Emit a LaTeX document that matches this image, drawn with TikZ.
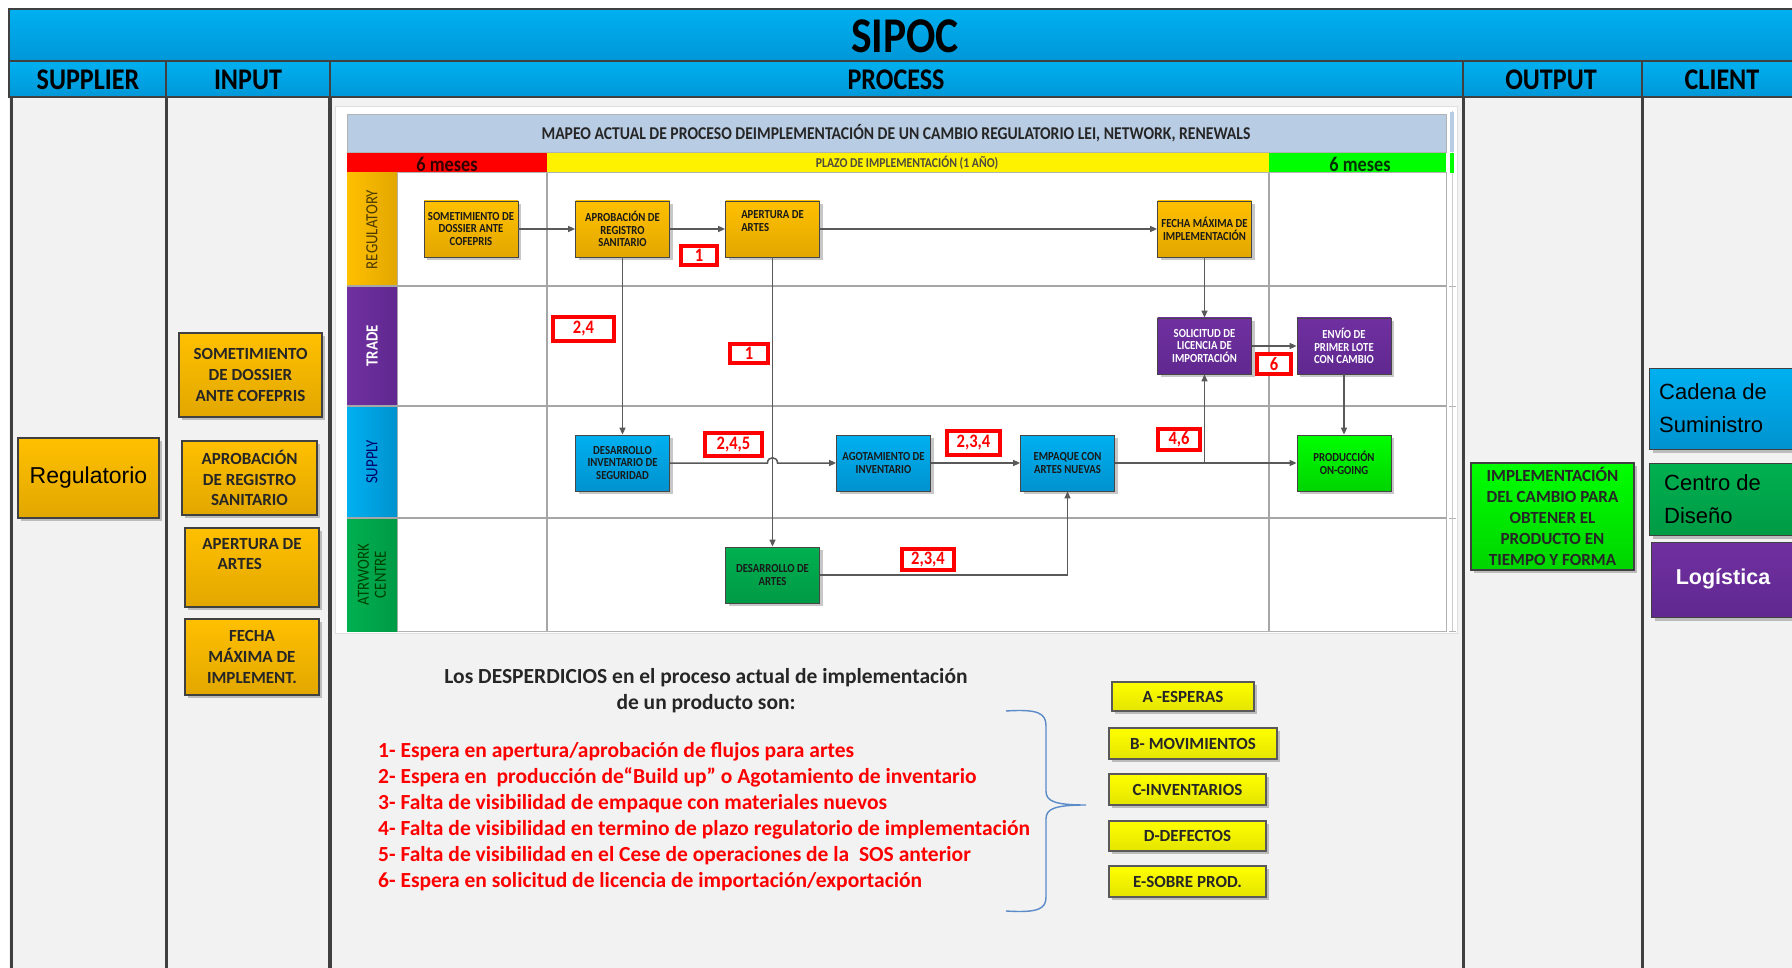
\documentclass[tikz,border=0pt]{standalone}
\usepackage{fontspec}
\setmainfont{Carlito}
\newfontfamily\condf[FakeStretch=0.87]{Carlito}
\newfontfamily\arialf{Liberation Sans}
\usetikzlibrary{arrows.meta,shadows}
\newcommand{\fsz}[2]{\fontsize{#1}{#2}\selectfont}

\definecolor{hdrblue}{HTML}{00B0F0}
\definecolor{hdrblued}{HTML}{0097D8}
\definecolor{bodygray}{HTML}{F2F2F2}
\definecolor{linegray}{HTML}{404040}
\definecolor{gold}{HTML}{FFC000}
\definecolor{goldd}{HTML}{E2A700}
\definecolor{purp}{HTML}{7030A0}
\definecolor{purpd}{HTML}{602890}
\definecolor{skyb}{HTML}{00B0F0}
\definecolor{skybd}{HTML}{0092CF}
\definecolor{grn}{HTML}{00B050}
\definecolor{grnd}{HTML}{009A45}
\definecolor{lime}{HTML}{00FF00}
\definecolor{limed}{HTML}{00D400}
\definecolor{titleblue}{HTML}{B8CCE4}
\definecolor{conn}{HTML}{595959}
\definecolor{bracec}{HTML}{5B8BC9}
\definecolor{yel}{HTML}{FFFF00}
\definecolor{yeld}{HTML}{E4E400}
\definecolor{txtdark}{HTML}{262626}
\definecolor{lanegray}{HTML}{A6A6A6}

\begin{document}
\begin{tikzpicture}[x=1pt,y=-1pt,
  shad/.style={drop shadow={shadow xshift=3pt,shadow yshift=-3pt,opacity=0.22,fill=black}},
  hdrtxt/.style={font=\condf\bfseries\fsz{30}{30},text=black,inner sep=0pt},
  colline/.style={draw=linegray,line width=3pt},
  goldfill/.style={top color=gold,bottom color=goldd},
  inbox/.style={goldfill,draw=linegray,line width=1.2pt,shad,align=center,inner sep=0pt,
    font=\bfseries\fsz{17}{20.8},text=txtdark},
  lanelbl/.style={rotate=90,inner sep=0pt,align=center,font=\condf\fsz{17}{17}},
  pnode/.style={draw=gray!55!black,line width=0.8pt,minimum width=94pt,minimum height=56pt,
    inner sep=0pt,align=center,font=\condf\bfseries\fsz{12.3}{12.7},text=black!90,shad},
  pgold/.style={pnode,top color=gold,bottom color=goldd},
  ppurp/.style={pnode,top color=purp,bottom color=purpd,text=white},
  pblue/.style={pnode,top color=skyb,bottom color=skybd},
  pgreen/.style={pnode,top color=grn,bottom color=grnd},
  plime/.style={pnode,top color=lime,bottom color=limed},
  tag/.style={draw=red,line width=3.2pt,fill=white,text=red,inner sep=0pt,
    font=\condf\bfseries\fsz{19}{19}},
  flow/.style={draw=conn,line width=1.5pt,-{Triangle[length=7pt,width=6pt]}},
  ybox/.style={top color=yel,bottom color=yeld,draw=gray!70!black,line width=1.2pt,shad,
    inner sep=0pt,font=\bfseries\fsz{17}{17},text=txtdark}]
\useasboundingbox (0,0) rectangle (1792,968);
\clip (0,0) rectangle (1792,968);
\fill[white] (0,0) rectangle (1792,968);

% ---------- table body ----------
\fill[bodygray] (9,97) rectangle (1800,968);

% ---------- header bars ----------
\path[top color=hdrblue,bottom color=hdrblued,draw=linegray,line width=1.5pt] (9,9) rectangle (1800,61);
\path[top color=hdrblue,bottom color=hdrblued,draw=linegray,line width=1.5pt] (9,61) rectangle (1800,97);
\foreach \cx in {166,330,1463,1642} \draw[linegray,line width=1.2pt] (\cx,61) -- (\cx,97);
\node[hdrtxt,font=\condf\bfseries\fsz{50}{50}] (ttl) at (905,36) {SIPOC};
\node[hdrtxt] (hsup) at (88,80) {SUPPLIER};
\node[hdrtxt] (hinp) at (248,80) {INPUT};
\node[hdrtxt] (hpro) at (896,80) {PROCESS};
\node[hdrtxt] (hout) at (1551,80) {OUTPUT};
\node[hdrtxt] (hcli) at (1722,80) {CLIENT};

% column rules
\draw[colline] (11,97) -- (11,968);
\draw[colline] (166,97) -- (166,968);
\draw[colline,line width=3.6pt] (330,97) -- (330,968);
\draw[colline] (1463,97) -- (1463,968);
\draw[colline] (1642,97) -- (1642,968);

% ---------- supplier ----------
\node[inbox,minimum width=141pt,minimum height=80pt,font=\arialf\fsz{23}{23},text=black] (sup) at (88.5,478) {Regulatorio};

% ---------- inputs ----------
\node[inbox,minimum width=143pt,minimum height=84pt] (in1) at (250.5,375) {SOMETIMIENTO\\DE DOSSIER\\ANTE COFEPRIS};
\node[inbox,minimum width=135pt,minimum height=74pt] (in2) at (249.5,478) {APROBACIÓN\\DE REGISTRO\\SANITARIO};
\node[inbox,minimum width=134pt,minimum height=79pt,align=left] (in3) at (252,567.5) {APERTURA DE\\\hspace*{0.9em}ARTES\\\strut};
\node[inbox,minimum width=134pt,minimum height=76pt] (in4) at (252,657) {FECHA\\MÁXIMA DE\\IMPLEMENT.};

% ---------- output ----------
\node[inbox,top color=lime,bottom color=limed,minimum width=163pt,minimum height=107pt] (out) at (1552.5,516.5)
  {IMPLEMENTACIÓN\\DEL CAMBIO PARA\\OBTENER EL\\PRODUCTO EN\\TIEMPO Y FORMA};

% ---------- clients ----------
\node[shad,top color=skyb,bottom color=skybd,draw=linegray,line width=1.2pt,minimum width=170pt,minimum height=81pt,anchor=north west,inner sep=0pt] (cl1) at (1649,368) {};
\node[anchor=west,align=left,inner sep=0pt,font=\arialf\fsz{22}{33},text=black] (cl1t) at (1659,408) {Cadena de\\Suministro};
\node[shad,top color=grn,bottom color=grnd,draw=linegray,line width=1.2pt,minimum width=170pt,minimum height=72pt,anchor=north west,inner sep=0pt] (cl2) at (1649,463) {};
\node[anchor=west,align=left,inner sep=0pt,font=\arialf\fsz{22}{33},text=black] (cl2t) at (1664,499) {Centro de\\Diseño};
\node[shad,top color=purp,bottom color=purpd,draw=linegray,line width=1.2pt,minimum width=170pt,minimum height=75pt,anchor=north west,inner sep=0pt] (cl3) at (1651,542) {};
\node[inner sep=0pt,font=\arialf\bfseries\fsz{21.5}{21.5},text=white] (cl3t) at (1723,579) {Logística};

% ---------- process map ----------
\fill[white,draw=gray!25] (335,106) rectangle (1457,633);
% title and time bar
\path[fill=titleblue,draw=gray!60] (347,114) rectangle (1446,152);
\node[inner sep=0pt,font=\condf\bfseries\fsz{18}{18},text=txtdark] (maptitle) at (896,133)
  {MAPEO ACTUAL DE PROCESO DEIMPLEMENTACIÓN DE UN CAMBIO REGULATORIO LEI, NETWORK, RENEWALS};
\fill[red] (347,153) rectangle (547,173);
\fill[yellow] (547,153) rectangle (1269,173);
\fill[lime] (1269,153) rectangle (1446,173);
\node[inner sep=0pt,font=\condf\bfseries\fsz{21}{21},text=black!80!red] (tm1) at (447,164) {6 meses};
\node[inner sep=0pt,font=\condf\bfseries\fsz{13.5}{13.5},text=black!80!yellow] (tm2) at (907,163) {PLAZO DE IMPLEMENTACIÓN (1 AÑO)};
\node[inner sep=0pt,font=\condf\bfseries\fsz{21}{21},text=black!80!green] (tm3) at (1360,164) {6 meses};

% side frame strip
\draw[gray!40,line width=0.8pt] (1452,111) -- (1452,631);
\fill[titleblue] (1450,112) rectangle (1454,152);
\fill[lime] (1450,153) rectangle (1454,173);
\foreach \ty in {286,406,518,631} \draw[gray!60,line width=0.8pt] (1449,\ty) -- (1456,\ty);

% swimlanes
\draw[gray!60,line width=1pt] (397,173) rectangle (1446,631);
\path[left color=gold,right color=goldd] (347,173) rectangle (397,286);
\path[left color=purp,right color=purpd] (347,286) rectangle (397,406);
\path[left color=skyb,right color=skybd] (347,406) rectangle (397,518);
\path[left color=grn,right color=grnd] (347,518) rectangle (397,631);
\foreach \ly in {286,406,518} \draw[lanegray,line width=1.5pt] (347,\ly) -- (1446,\ly);
\draw[lanegray,line width=1.5pt] (547,173) -- (547,631);
\draw[lanegray,line width=1.5pt] (1269,173) -- (1269,631);
\node[lanelbl,text=black!70!gold] (lreg) at (372,229.5) {REGULATORY};
\node[lanelbl,text=white,font=\condf\bfseries\fsz{17}{17}] (ltra) at (372,346) {TRADE};
\node[lanelbl,text=blue!40!black] (lsup) at (372,462) {SUPPLY};
\node[lanelbl,text=green!25!black] (lart) at (372,574.5) {ATRWORK\\CENTRE};

% process steps
\node[pgold] (p1) at (471,229) {SOMETIMIENTO DE\\DOSSIER ANTE\\COFEPRIS};
\node[pgold] (p2) at (622.5,229) {APROBACIÓN DE\\REGISTRO\\SANITARIO};
\node[pgold,align=left] (p3) at (772.5,229) {APERTURA DE\\ARTES\\\strut};
\node[pgold] (p4) at (1204.5,229) {FECHA MÁXIMA DE\\IMPLEMENTACIÓN};
\node[ppurp] (p5) at (1204.5,346) {SOLICITUD DE\\LICENCIA DE\\IMPORTACIÓN};
\node[ppurp] (p6) at (1344,346) {ENVÍO DE\\PRIMER LOTE\\CON CAMBIO};
\node[pblue] (p7) at (622.5,463) {DESARROLLO\\INVENTARIO DE\\SEGURIDAD};
\node[pblue] (p8) at (883.5,463) {AGOTAMIENTO DE\\INVENTARIO};
\node[pblue] (p9) at (1067.5,463) {EMPAQUE CON\\ARTES NUEVAS};
\node[plime] (p10) at (1344,463) {PRODUCCIÓN\\ON-GOING};
\node[pgreen] (p11) at (772.5,575) {DESARROLLO DE\\ARTES};

% flows
\coordinate (hopL) at (767.5,463);
\coordinate (hopR) at (777.5,463);
\draw[flow] (p1) -- (p2);
\draw[flow] (p2) -- (p3);
\draw[flow] (p3) -- (p4);
\draw[flow] (p2) -- (p7);
\draw[flow] (p3) -- (p11);
\draw[flow] (p4) -- (p5);
\draw[flow] (p5) -- (p6);
\draw[flow] (p6) -- (p10);
\draw[flow] (p7.east) -- (hopL) .. controls +(0,-7) and +(0,-7) .. (hopR) -- (p8.west);
\draw[flow] (p8) -- (p9);
\draw[flow] (p9) -- (p10);
\draw[flow] (p9.east) -| (p5.south);
\draw[flow] (p11.east) -| (p9.south);

% waste markers
\node[tag,minimum width=36pt,minimum height=19pt] (t1) at (699,255.5) {1};
\node[tag,minimum width=61pt,minimum height=24pt] (t2) at (583.5,329) {2,4};
\node[tag,minimum width=38pt,minimum height=19pt] (t3) at (749,353.5) {1};
\node[tag,minimum width=34pt,minimum height=20pt] (t4) at (1274,364) {6};
\node[tag,minimum width=57pt,minimum height=23pt] (t5) at (733.5,444.5) {2,4,5};
\node[tag,minimum width=53pt,minimum height=24pt] (t6) at (973.5,443) {2,3,4};
\node[tag,minimum width=42pt,minimum height=21pt] (t7) at (1179,439.5) {4,6};
\node[tag,minimum width=52pt,minimum height=21pt] (t8) at (928,559.5) {2,3,4};

% ---------- waste summary ----------
\node[align=center,inner sep=0pt,font=\bfseries\fsz{21.5}{26},text=txtdark] (wtitle) at (706,691)
  {Los DESPERDICIOS en el proceso actual de implementación\\de un producto son:};
\node[anchor=north west,align=left,inner sep=0pt,font=\bfseries\fsz{21.5}{26},text=red] (wlist) at (378,742)
  {1- Espera en apertura/aprobación de flujos para artes\\
   2- Espera en~ producción de“Build up” o Agotamiento de inventario\\
   3- Falta de visibilidad de empaque con materiales nuevos\\
   4- Falta de visibilidad en termino de plazo regulatorio de implementación\\
   5- Falta de visibilidad en el Cese de operaciones de la~ SOS anterior\\
   6- Espera en solicitud de licencia de importación/exportación};

\coordinate (brTop) at (1006,711);
\coordinate (brTip) at (1086,805);
\coordinate (brBot) at (1006,911);
\draw[bracec,line width=1.4pt] (brTop) .. controls (1038,709) and (1046,713) .. (1046,726)
  -- (1046,791) .. controls (1046,801) and (1054,805) .. (brTip)
  .. controls (1054,805) and (1046,809) .. (1046,819)
  -- (1046,897) .. controls (1046,909) and (1038,913) .. (brBot);

\node[ybox,minimum width=142pt,minimum height=29pt] (wa) at (1183,696.5) {A -ESPERAS};
\node[ybox,minimum width=168pt,minimum height=31pt] (wb) at (1193,743.5) {B- MOVIMIENTOS};
\node[ybox,minimum width=157pt,minimum height=31pt] (wc) at (1187.5,789.5) {C-INVENTARIOS};
\node[ybox,minimum width=157pt,minimum height=30pt] (wd) at (1187.5,836) {D-DEFECTOS};
\node[ybox,minimum width=157pt,minimum height=31pt] (we) at (1187.5,881.5) {E-SOBRE PROD.};
\end{tikzpicture}
\end{document}
